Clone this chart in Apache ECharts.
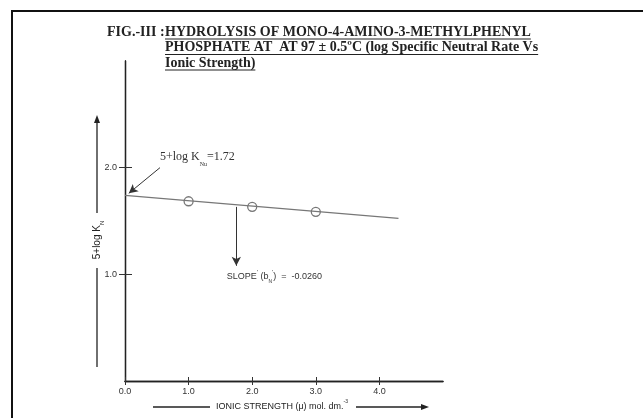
<!DOCTYPE html>
<html><head><meta charset="utf-8">
<script src="https://cdn.jsdelivr.net/npm/echarts@6/dist/echarts.min.js"></script>
<style>html,body{margin:0;padding:0;background:#fff}#c{width:643px;height:418px}</style>
</head><body><div id="c"></div>
<script>
// ---- data ----
const ionicStrength = [1.0, 2.0, 3.0];
const logK = [1.685, 1.633, 1.586];
const fitX = [0, 4.3];
const fitY = [1.74, 1.525];
const xTicks = [0, 1, 2, 3, 4];
const xTickLabels = ['0.0', '1.0', '2.0', '3.0', '4.0'];
const yTicks = [1, 2];
const yTickLabels = ['1.0', '2.0'];
const interceptText = '1.72';
const slopeText = '-0.0260';
const slopeArrowX = 1.75;
const titleLines = [
  'HYDROLYSIS OF MONO-4-AMINO-3-METHYLPHENYL',
  'PHOSPHATE AT  AT 97 \u00b1 0.5\u00baC (log Specific Neutral Rate Vs',
  'Ionic Strength)'
];

// ---- chart ----
const chart = echarts.init(document.getElementById('c'), null, {renderer: 'canvas'});
const ink = '#222';
const fitAt = x => fitY[0] + (fitY[1] - fitY[0]) * (x - fitX[0]) / (fitX[1] - fitX[0]);

const titleFont = 'bold 14px "Liberation Serif"';
const meas = document.createElement('canvas').getContext('2d');
meas.font = titleFont;

const graphics = [
  // frame
  {type: 'line', shape: {x1: 11, y1: 11, x2: 643, y2: 11}, style: {stroke: '#111', lineWidth: 2}},
  {type: 'line', shape: {x1: 12, y1: 11, x2: 12, y2: 418}, style: {stroke: '#111', lineWidth: 2}},
  // title
  {type: 'text', x: 107, y: 32, style: {text: 'FIG.-III :', font: titleFont, fill: ink, verticalAlign: 'middle'}}
];
titleLines.forEach((t, i) => {
  const y = 32 + i * 15.5;
  const w = meas.measureText(t).width;
  graphics.push({type: 'text', x: 165, y: y, style: {text: t, font: titleFont, fill: ink, verticalAlign: 'middle'}});
  graphics.push({type: 'line', shape: {x1: 165, y1: y + 7, x2: 165 + w, y2: y + 7}, style: {stroke: ink, lineWidth: 1}});
});
// y axis title with arrow
graphics.push(
  {type: 'line', shape: {x1: 97, y1: 367, x2: 97, y2: 268}, style: {stroke: ink, lineWidth: 1.3}},
  {type: 'line', shape: {x1: 97, y1: 213, x2: 97, y2: 120}, style: {stroke: ink, lineWidth: 1.3}},
  {type: 'polygon', shape: {points: [[97, 115], [94, 123], [100, 123]]}, style: {fill: ink}},
  {type: 'text', x: 97, y: 240, rotation: Math.PI / 2,
    style: {text: '5+log K{s|N}', font: '10px "Liberation Sans"', fill: ink, align: 'center', verticalAlign: 'middle',
      rich: {s: {fontSize: 6, verticalAlign: 'bottom', padding: [0, 0, -3, 0]}}}},
  // x axis title with arrows
  {type: 'line', shape: {x1: 153, y1: 407, x2: 210, y2: 407}, style: {stroke: ink, lineWidth: 1.3}},
  {type: 'line', shape: {x1: 356, y1: 407, x2: 424, y2: 407}, style: {stroke: ink, lineWidth: 1.3}},
  {type: 'polygon', shape: {points: [[429, 407], [421, 404], [421, 410]]}, style: {fill: ink}},
  {type: 'text', x: 282, y: 407,
    style: {text: 'IONIC STRENGTH (\u03bc) mol. dm.{p|-3}', font: '9px "Liberation Sans"', fill: ink, align: 'center', verticalAlign: 'middle',
      rich: {p: {fontSize: 5, verticalAlign: 'top', padding: [-3, 0, 0, 0]}}}}
);

const axisBase = {
  min: 0, type: 'value', splitLine: {show: false}
};
const option = {
  animation: false,
  backgroundColor: '#fff',
  grid: {left: 125, top: 61, width: 318, height: 320, containLabel: false},
  xAxis: [
    Object.assign({}, axisBase, {
      max: 5, position: 'bottom',
      axisLine: {show: true, onZero: false, lineStyle: {color: ink, width: 1.3}},
      axisTick: {show: true, inside: false, length: 4, customValues: xTicks, lineStyle: {color: '#333'}},
      axisLabel: {show: true, customValues: xTicks, margin: 6, fontSize: 9, fontFamily: 'Liberation Sans', color: '#333',
        formatter: v => xTickLabels[xTicks.indexOf(v)] || ''}
    }),
    Object.assign({}, axisBase, {
      max: 5, position: 'bottom',
      axisLine: {show: true, onZero: false, lineStyle: {color: ink, width: 1.3}},
      axisTick: {show: true, inside: true, length: 4, customValues: xTicks, lineStyle: {color: '#333'}},
      axisLabel: {show: false}
    })
  ],
  yAxis: [
    Object.assign({}, axisBase, {
      max: 3, position: 'left',
      axisLine: {show: true, onZero: false, lineStyle: {color: ink, width: 1.3}},
      axisTick: {show: true, inside: false, length: 6, customValues: yTicks, lineStyle: {color: '#333'}},
      axisLabel: {show: true, customValues: yTicks, margin: 8, fontSize: 9, fontFamily: 'Liberation Sans', color: '#333',
        formatter: v => yTickLabels[yTicks.indexOf(v)] || ''}
    }),
    Object.assign({}, axisBase, {
      max: 3, position: 'left',
      axisLine: {show: true, onZero: false, lineStyle: {color: ink, width: 1.3}},
      axisTick: {show: true, inside: true, length: 7, customValues: yTicks, lineStyle: {color: '#333'}},
      axisLabel: {show: false}
    })
  ],
  series: [
    {
      type: 'line', xAxisIndex: 0, yAxisIndex: 0,
      data: fitX.map((x, i) => [x, fitY[i]]),
      symbol: 'none', lineStyle: {color: '#777', width: 1.2},
      markLine: {
        silent: true, symbol: ['none', 'arrow'], symbolSize: [7, 9], label: {show: false},
        lineStyle: {color: '#333', width: 1, type: 'solid'},
        data: [
          [{coord: [0.55, 2.0]}, {coord: [0.06, 1.76]}],
          [{coord: [slopeArrowX, fitAt(slopeArrowX) - 0.02]}, {coord: [slopeArrowX, 1.08]}]
        ]
      },
      markPoint: {
        silent: true, symbol: 'circle', symbolSize: 0,
        data: [
          {coord: [0.55, 2.1], label: {show: true, position: 'right', distance: 0,
            formatter: '5+log K{s|Nu}=' + interceptText,
            fontFamily: 'Liberation Serif', fontSize: 12, color: '#333',
            rich: {s: {fontSize: 6, fontFamily: 'Liberation Serif', color: '#333', verticalAlign: 'bottom', padding: [0, 0, -4, 0]}}}},
          {coord: [1.6, 0.975], label: {show: true, position: 'right', distance: 0,
            formatter: "SLOPE{p|'} (b{s|N}{p|'})  =  " + slopeText,
            fontFamily: 'Liberation Sans', fontSize: 9, color: '#333',
            rich: {
              s: {fontSize: 5, color: '#333', verticalAlign: 'bottom', padding: [0, 0, -3, 0]},
              p: {fontSize: 6, color: '#333', verticalAlign: 'top', padding: [-3, 0, 0, 0]}
            }}}
        ]
      }
    },
    {
      type: 'scatter', xAxisIndex: 0, yAxisIndex: 0,
      data: ionicStrength.map((x, i) => [x, logK[i]]),
      symbol: 'circle', symbolSize: 9,
      itemStyle: {color: '#fff', borderColor: '#555', borderWidth: 1.3}
    },
    {type: 'scatter', xAxisIndex: 1, yAxisIndex: 1, data: [], silent: true}
  ],
  graphic: graphics
};
chart.setOption(option);
</script>
</body></html>
